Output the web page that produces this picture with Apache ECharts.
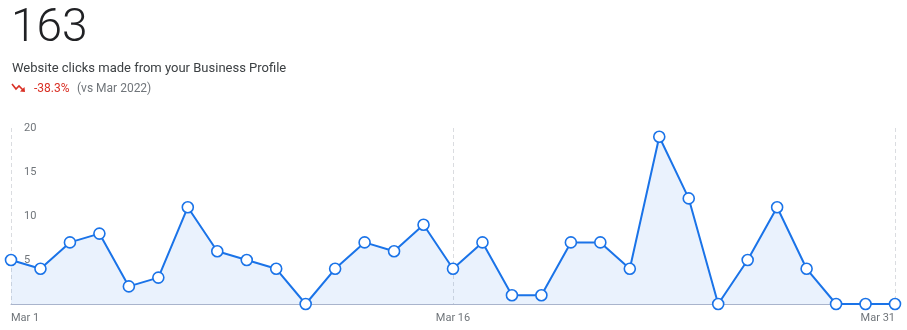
<!DOCTYPE html>
<html>
<head>
<meta charset="utf-8">
<script src="https://cdn.jsdelivr.net/npm/echarts@6/dist/echarts.min.js"></script>
<style>
html,body{margin:0;padding:0;background:#fff;}
#c{width:907px;height:330px;}
</style>
</head>
<body>
<div id="c"></div>
<script>
const days = ['Mar 1','Mar 2','Mar 3','Mar 4','Mar 5','Mar 6','Mar 7','Mar 8','Mar 9','Mar 10','Mar 11','Mar 12','Mar 13','Mar 14','Mar 15','Mar 16','Mar 17','Mar 18','Mar 19','Mar 20','Mar 21','Mar 22','Mar 23','Mar 24','Mar 25','Mar 26','Mar 27','Mar 28','Mar 29','Mar 30','Mar 31'];
const clicks = [5,4,7,8,2,3,11,6,5,4,0,4,7,6,9,4,7,1,1,7,7,4,19,12,0,5,11,4,0,0,0];
const shownTicks = [0,15,30];
const yTicks = [5,10,15,20];
const totalText = '163';
const subtitleText = 'Website clicks made from your Business Profile';
const changeText = '-38.3%';
const compareText = '(vs Mar 2022)';

const chart = echarts.init(document.getElementById('c'));
chart.setOption({
  animation:false,
  grid:{left:11,right:12,top:128,bottom:26,containLabel:false},
  xAxis:{
    type:'category',
    data:days,
    boundaryGap:false,
    axisLine:{lineStyle:{color:'#a9b4cc',width:1}},
    axisTick:{show:false},
    axisLabel:{
      interval:function(i){return shownTicks.indexOf(i)>=0;},
      color:'#70757a',fontSize:11,fontFamily:'Roboto',margin:9,
      alignMinLabel:'left',alignMaxLabel:'right'
    },
    splitLine:{show:true,interval:function(i){return shownTicks.indexOf(i)>=0;},lineStyle:{color:'#dadce0',type:[4,3],width:1}}
  },
  yAxis:{
    type:'value',min:0,max:20,interval:5,
    axisLine:{show:false},axisTick:{show:false},
    splitLine:{show:false},
    axisLabel:{inside:true,margin:13,color:'#70757a',fontSize:11,fontFamily:'Roboto',
      formatter:function(v){return yTicks.indexOf(v)>=0?String(v):'';},
      verticalAlign:'middle'}
  },
  series:[{
    type:'line',
    data:clicks,
    symbol:'circle',
    symbolSize:11,
    itemStyle:{color:'#ffffff',borderColor:'#1a73e8',borderWidth:1.6},
    lineStyle:{color:'#1a73e8',width:2},
    areaStyle:{color:'rgba(26,115,232,0.13)'},
    z:3
  }],
  graphic:[
    {type:'text',left:11,top:6,style:{text:totalText,font:'300 46px Roboto',fill:'#202124'}},
    {type:'text',left:12,top:62,style:{text:subtitleText,font:'400 13px Roboto',fill:'#3c4043'}},
    {type:'polyline',shape:{points:[[12,84],[16,89],[19,86],[23,90]]},style:{stroke:'#d93025',lineWidth:1.6,fill:null}},
    {type:'polygon',shape:{points:[[25,92],[20,91.5],[24.5,87]]},style:{fill:'#d93025'}},
    {type:'text',left:34,top:83,style:{text:changeText,font:'400 12px Roboto',fill:'#d93025'}},
    {type:'text',left:77,top:83,style:{text:compareText,font:'400 12px Roboto',fill:'#70757a'}}
  ]
});
</script>
</body>
</html>
